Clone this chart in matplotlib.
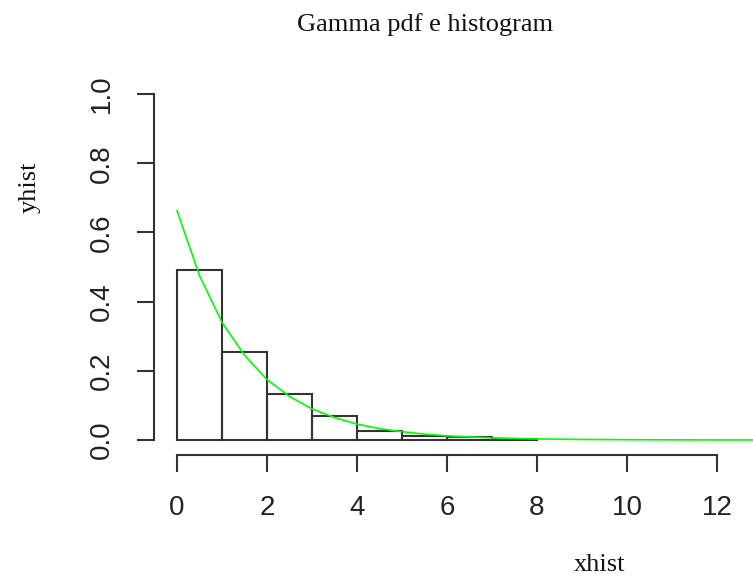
import numpy as np
import matplotlib
matplotlib.use("Agg")
import matplotlib.pyplot as plt

# histogram (density)
bin_edges = [0, 1, 2, 3, 4, 5, 6, 7, 8]
bin_heights = [0.490, 0.254, 0.133, 0.069, 0.027, 0.013, 0.008, 0.004]

# gamma pdf curve
curve_x = [0, 0.5, 1, 1.5, 2, 2.5, 3, 3.5, 4, 4.5, 5, 5.5, 6, 6.5, 7, 7.5,
           8, 9, 10, 11, 12, 12.8]
curve_y = [0.663, 0.475, 0.340, 0.245, 0.175, 0.126, 0.090, 0.065, 0.046,
           0.033, 0.024, 0.017, 0.012, 0.009, 0.006, 0.0045, 0.003, 0.0016,
           0.0008, 0.0004, 0.0002, 0.0001]

x_ticks = [0, 2, 4, 6, 8, 10, 12]
y_ticks = [0.0, 0.2, 0.4, 0.6, 0.8, 1.0]

W, H = 753, 577
fig = plt.figure(figsize=(W / 100, H / 100), dpi=100)

# axes box in pixels: left 160, right 753, top 85, bottom 445
ax = fig.add_axes([160 / W, (H - 445) / H, 593 / W, 360 / H])
ax.set_xlim(-17 / 45, 576 / 45)
ax.set_ylim(-5 / 346, 355 / 346)

axis_col = "#333333"
lw = 1.5

widths = np.diff(bin_edges)
ax.bar(bin_edges[:-1], bin_heights, width=widths, align="edge",
       fill=False, edgecolor=axis_col, linewidth=lw)
ax.plot(curve_x, curve_y, color="#00ff00", linewidth=1.2, clip_on=False)

for s in ["top", "right"]:
    ax.spines[s].set_visible(False)
ax.spines["left"].set_position(("outward", 4.3))
ax.spines["bottom"].set_position(("outward", 7.2))
ax.spines["left"].set_bounds(0, 1)
ax.spines["bottom"].set_bounds(0, 12)
for s in ["left", "bottom"]:
    ax.spines[s].set_color(axis_col)
    ax.spines[s].set_linewidth(lw)

ax.set_xticks(x_ticks)
ax.set_xticklabels([str(t) for t in x_ticks])
ax.set_yticks(y_ticks)
ax.set_yticklabels([f"{t:.1f}" for t in y_ticks], rotation=90, va="center")
ax.tick_params(axis="both", direction="out", length=12, width=lw,
               color=axis_col, labelsize=20, labelcolor="#222222")
ax.tick_params(axis="x", pad=17)
ax.tick_params(axis="y", pad=16)
for lab in ax.get_xticklabels() + ax.get_yticklabels():
    lab.set_family("Liberation Sans")

serif = dict(family="Liberation Serif", size=19, color="#111111")
fig.text(425 / W, 1 - 25 / H, "Gamma pdf e histogram", ha="center", va="center", **serif)
fig.text(600 / W, 1 - 565 / H, "xhist", ha="center", va="center", **serif)
fig.text(30 / W, 1 - 187 / H, "yhist", ha="center", va="center", rotation=90, **serif)

fig.savefig("out.png", dpi=100)
